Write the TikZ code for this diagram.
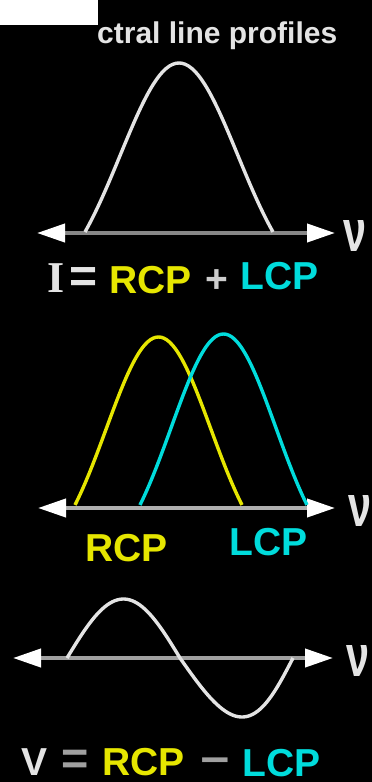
\documentclass[tikz,border=0pt]{standalone}
\usepackage{fontspec}
\usepackage{graphicx}
\setmainfont{Liberation Sans}
\newfontfamily\serifb{Liberation Serif}
\usetikzlibrary{arrows.meta}
\definecolor{ylw}{RGB}{230,230,0}
\definecolor{cyn}{RGB}{0,220,220}
\definecolor{wht}{RGB}{228,228,228}
\definecolor{axone}{RGB}{135,135,135}
\definecolor{axtwo}{RGB}{175,175,175}
\definecolor{axthree}{RGB}{160,160,160}
\tikzset{
  lbl/.style={inner sep=0pt, anchor=base west, font=\bfseries\fontsize{39}{39}\selectfont},
  curve/.style={line width=3.4pt, line join=round},
  axisline/.style={line width=4pt,
    {Triangle[length=28pt,width=18pt,color=white]}-{Triangle[length=28pt,width=18pt,color=white]}},
  nulbl/.style={inner sep=0pt, anchor=center, text=wht, font=\bfseries}
}
\begin{document}
\begin{tikzpicture}[x=1pt,y=-1pt]
\fill[black] (0,0) rectangle (372,782);
\useasboundingbox (0,0) rectangle (372,782);
% cover box and title
\fill[white] (0,0) rectangle (98,25);
\node[lbl, font=\bfseries\fontsize{30}{30}\selectfont, text=wht] (title) at (97,43) {ctral line profiles};

% ---------- panel 1 ----------
\coordinate (a1l) at (37,233);
\coordinate (a1r) at (335,233);
\draw[axisline, draw=axone] (a1l) -- (a1r);
\draw[curve, wht] plot[domain=-1:1, samples=61, smooth]
  ({179+94*\x}, {232-169*(exp(-1.28*\x*\x)-0.278)/0.722});
\node[nulbl] (nu1) at (355,236) {\resizebox{23pt}{31pt}{ν}};
\node[lbl, font=\serifb\bfseries\fontsize{44}{44}\selectfont, text=wht] (iI) at (47,292) {I};
\node[lbl, font=\bfseries\fontsize{48}{48}\selectfont, text=wht] (ieq) at (69,292) {=};
\node[lbl, text=ylw] (rcp1) at (109,293) {RCP};
\node[lbl, text=wht!90!black] (plus) at (205,292) {+};
\node[lbl, text=cyn] (lcp1) at (240,289) {LCP};

% ---------- panel 2 ----------
\coordinate (a2l) at (38,508);
\coordinate (a2r) at (335,508);
\draw[axisline, draw=axtwo] (a2l) -- (a2r);
\draw[curve, ylw] plot[domain=-1:1, samples=61, smooth]
  ({158.5+83.5*\x}, {505-168*(exp(-1.28*\x*\x)-0.278)/0.722});
\draw[curve, cyn] plot[domain=-1:1, samples=61, smooth]
  ({223.5+83.5*\x}, {505-171*(exp(-1.28*\x*\x)-0.278)/0.722});
\node[nulbl] (nu2) at (360,511) {\resizebox{23pt}{31pt}{ν}};
\node[lbl, text=ylw] (rcp2) at (85,561) {RCP};
\node[lbl, text=cyn] (lcp2) at (229,555) {LCP};

% ---------- panel 3 ----------
\coordinate (a3l) at (13,658);
\coordinate (a3r) at (333,658);
\draw[axisline, draw=axthree] (a3l) -- (a3r);
\draw[curve, wht] plot[domain=0:360, samples=91, smooth]
  ({67+0.627778*\x+2.75*(abs(sin(\x))-sin(\x))}, {658-59*sin(\x)});
\node[nulbl] (nu3) at (358,661) {\resizebox{23pt}{31pt}{ν}};
\node[lbl, text=wht] (vV) at (21,775) {V};
\node[lbl, text=axthree] (veq) at (61,774) {\scalebox{1.2}{=}};
\node[lbl, text=ylw] (rcp3) at (102,775) {RCP};
\node[lbl, text=axthree] (minus) at (200,774) {\scalebox{1.3}[1.1]{−}};
\node[lbl, text=cyn] (lcp3) at (242,776) {LCP};
\end{tikzpicture}
\end{document}
